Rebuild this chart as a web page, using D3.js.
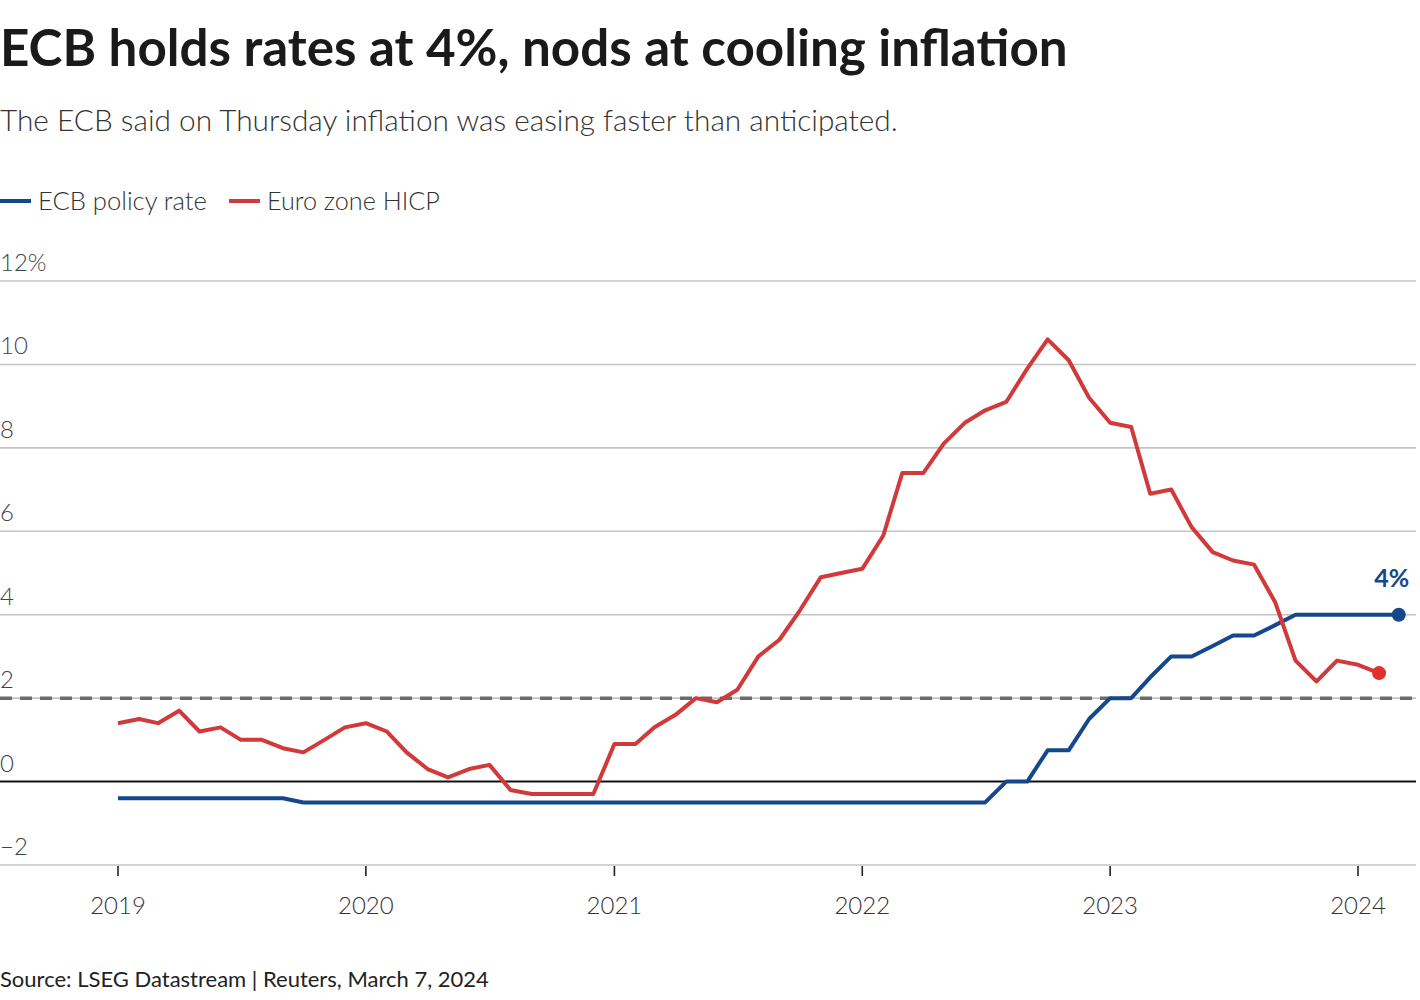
<!DOCTYPE html>
<html>
<head>
<meta charset="utf-8">
<script src="https://cdn.jsdelivr.net/npm/d3@7"></script>
<style>
  html, body { margin: 0; padding: 0; background: #fff; }
  svg { display: block; }
  text { font-family: Lato, "Noto Sans", sans-serif; }
</style>
</head>
<body>
<svg id="chart" width="1420" height="1000"></svg>
<script>
// ---- Data ----
const title = "ECB holds rates at 4%, nods at cooling inflation";
const subtitle = "The ECB said on Thursday inflation was easing faster than anticipated.";
const source = "Source: LSEG Datastream | Reuters, March 7, 2024";
const seriesNames = ["ECB policy rate", "Euro zone HICP"];
const seriesColors = ["#15488a", "#d2393a"];

// monthly values, first value = January 2019
const startMonth = new Date(2019, 0, 1);
const hicp = [
  1.4, 1.5, 1.4, 1.7, 1.2, 1.3, 1.0, 1.0, 0.8, 0.7, 1.0, 1.3,   // 2019
  1.4, 1.2, 0.7, 0.3, 0.1, 0.3, 0.4, -0.2, -0.3, -0.3, -0.3, -0.3, // 2020
  0.9, 0.9, 1.3, 1.6, 2.0, 1.9, 2.2, 3.0, 3.4, 4.1, 4.9, 5.0,   // 2021
  5.1, 5.9, 7.4, 7.4, 8.1, 8.6, 8.9, 9.1, 9.9, 10.6, 10.1, 9.2, // 2022
  8.6, 8.5, 6.9, 7.0, 6.1, 5.5, 5.3, 5.2, 4.3, 2.9, 2.4, 2.9,   // 2023
  2.8, 2.6                                                      // 2024
];
const policyRate = [
  -0.4, -0.4, -0.4, -0.4, -0.4, -0.4, -0.4, -0.4, -0.4, -0.5, -0.5, -0.5, // 2019
  -0.5, -0.5, -0.5, -0.5, -0.5, -0.5, -0.5, -0.5, -0.5, -0.5, -0.5, -0.5, // 2020
  -0.5, -0.5, -0.5, -0.5, -0.5, -0.5, -0.5, -0.5, -0.5, -0.5, -0.5, -0.5, // 2021
  -0.5, -0.5, -0.5, -0.5, -0.5, -0.5, -0.5, 0.0, 0.0, 0.75, 0.75, 1.5,    // 2022
  2.0, 2.0, 2.5, 3.0, 3.0, 3.25, 3.5, 3.5, 3.75, 4.0, 4.0, 4.0,           // 2023
  4.0, 4.0, 4.0                                                           // 2024
];
const yTicks = [-2, 0, 2, 4, 6, 8, 10, 12];
const yTickLabels = ["\u22122", "0", "2", "4", "6", "8", "10", "12%"];
const xTickYears = [2019, 2020, 2021, 2022, 2023, 2024];
const targetLine = 2;
const endLabel = "4%";

// ---- Build ----
const svg = d3.select("#chart");
const toPoints = vals => vals.map((v, i) => ({ date: d3.timeMonth.offset(startMonth, i), value: v }));
const hicpPts = toPoints(hicp);
const ratePts = toPoints(policyRate);

const x = d3.scaleTime()
  .domain([new Date(2019, 0, 1), new Date(2024, 0, 1)])
  .range([118, 1358]);
const y = d3.scaleLinear().domain([-2, 12]).range([865, 281]);

function fitWidth(sel, target) {
  const node = sel.node();
  let fs = parseFloat(sel.attr("font-size"));
  const w = node.getComputedTextLength();
  sel.attr("font-size", fs * target / w);
}

// Title
const t = svg.append("text").attr("x", 0).attr("y", 66)
  .attr("font-size", 48).attr("font-weight", 700).attr("fill", "#1a1a1a").text(title);
fitWidth(t, 1068);
const st = svg.append("text").attr("x", 0).attr("y", 131)
  .attr("font-size", 30).attr("font-weight", 300).attr("fill", "#333").text(subtitle);
fitWidth(st, 898);

// Legend
const legendX = [0, 229];
const legendW = [169, 173];
seriesNames.forEach((name, i) => {
  const g = svg.append("g").attr("transform", `translate(${legendX[i]},201)`);
  g.append("line").attr("x1", 0).attr("x2", 31).attr("y1", 0).attr("y2", 0)
    .attr("stroke", seriesColors[i]).attr("stroke-width", 4);
  const lt = g.append("text").attr("x", 38).attr("y", 9)
    .attr("font-size", 25).attr("font-weight", 300).attr("fill", "#333").text(name);
  fitWidth(lt, legendW[i]);
});

// Gridlines + y labels
const grid = svg.append("g");
yTicks.forEach((v, i) => {
  grid.append("line").attr("x1", 0).attr("x2", 1416)
    .attr("y1", y(v)).attr("y2", y(v))
    .attr("stroke", v === 0 ? "#111" : "#c4c4c4")
    .attr("stroke-width", v === 0 ? 2 : 1.6);
  grid.append("text").attr("x", 0).attr("y", y(v) - 10)
    .attr("font-size", 24).attr("font-weight", 300).attr("fill", "#444")
    .text(yTickLabels[i]);
});

// 2% dashed line
svg.append("line").attr("x1", 0).attr("x2", 1416)
  .attr("y1", y(targetLine)).attr("y2", y(targetLine))
  .attr("stroke", "#6a6a6a").attr("stroke-width", 3.5)
  .attr("stroke-dasharray", "12,8");

// X axis ticks
const xAxis = svg.append("g");
xTickYears.forEach(yr => {
  const px = x(new Date(yr, 0, 1));
  xAxis.append("line").attr("x1", px).attr("x2", px).attr("y1", 866).attr("y2", 876)
    .attr("stroke", "#222").attr("stroke-width", 1.6);
  xAxis.append("text").attr("x", px).attr("y", 914).attr("text-anchor", "middle")
    .attr("font-size", 24).attr("font-weight", 300).attr("fill", "#333").text(yr);
});

// Lines
const line = d3.line().x(d => x(d.date)).y(d => y(d.value));
svg.append("path").datum(ratePts).attr("d", line)
  .attr("fill", "none").attr("stroke", seriesColors[0]).attr("stroke-width", 4)
  .attr("stroke-linejoin", "round");
svg.append("path").datum(hicpPts).attr("d", line)
  .attr("fill", "none").attr("stroke", seriesColors[1]).attr("stroke-width", 4)
  .attr("stroke-linejoin", "round");

// End dots
const lastRate = ratePts[ratePts.length - 1];
const lastHicp = hicpPts[hicpPts.length - 1];
svg.append("circle").attr("cx", x(lastRate.date)).attr("cy", y(lastRate.value)).attr("r", 7)
  .attr("fill", seriesColors[0]);
svg.append("circle").attr("cx", x(lastHicp.date)).attr("cy", y(lastHicp.value)).attr("r", 7)
  .attr("fill", "#e0312f");
svg.append("text").attr("x", x(lastRate.date) - 7).attr("y", y(lastRate.value) - 28)
  .attr("text-anchor", "middle").attr("font-size", 25).attr("font-weight", 700)
  .attr("fill", seriesColors[0]).text(endLabel);

// Source
svg.append("text").attr("x", 0).attr("y", 987)
  .attr("font-size", 22).attr("font-weight", 400).attr("fill", "#222").text(source);
</script>
</body>
</html>
